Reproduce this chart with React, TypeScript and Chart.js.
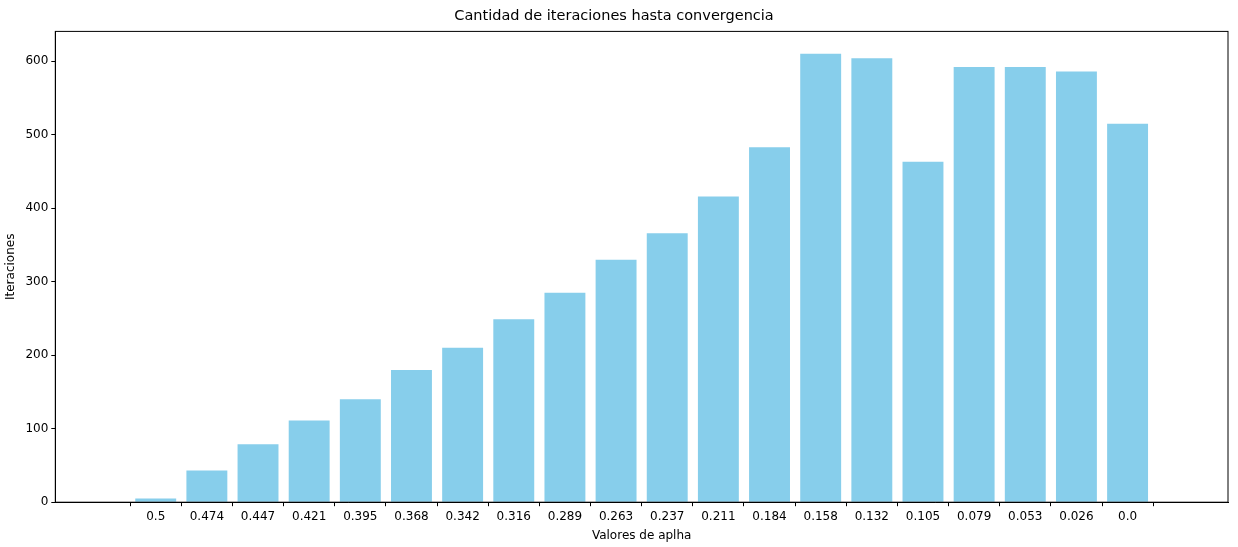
import { Chart, registerables } from "chart.js";
import { useEffect, useRef } from "react";

Chart.register(...registerables);

const alphaLabels = ["0.5", "0.474", "0.447", "0.421", "0.395", "0.368", "0.342", "0.316", "0.289", "0.263", "0.237", "0.211", "0.184", "0.158", "0.132", "0.105", "0.079", "0.053", "0.026", "0.0"];
const iterations = [5, 43, 79, 111, 140, 180, 210, 249, 285, 330, 366, 416, 483, 610, 604, 463, 592, 592, 586, 515];
const yTicks = [0, 100, 200, 300, 400, 500, 600];

const frame = {
  id: "frame",
  afterDraw(chart: Chart) {
    const { ctx, chartArea: a } = chart;
    ctx.save();
    ctx.strokeStyle = "#000";
    ctx.lineWidth = 1;
    ctx.strokeRect(a.left, a.top, a.right - a.left, a.bottom - a.top);
    ctx.restore();
  },
};

const App = () => {
  const ref = useRef<HTMLCanvasElement>(null);
  useEffect(() => {
    if (!ref.current) return;
    const font = { family: "DejaVu Sans", size: 12 };
    const chart = new Chart(ref.current, {
      type: "bar",
      data: {
        datasets: [
          {
            data: iterations.map((y, i) => ({ x: i, y })),
            backgroundColor: "#87CEEB",
            barPercentage: 0.8,
            categoryPercentage: 1,
          },
        ],
      },
      options: {
        animation: false,
        responsive: false,
        layout: { padding: { top: 0, right: 10, left: 0, bottom: 0 } },
        plugins: {
          legend: { display: false },
          tooltip: { enabled: false },
          title: {
            display: true,
            text: "Cantidad de iteraciones hasta convergencia",
            color: "#000",
            font: { family: "DejaVu Sans", size: 14.5, weight: "normal" },
            padding: { top: 8, bottom: 6 },
          },
        },
        scales: {
          x: {
            type: "linear",
            min: -1.39,
            max: 20.39,
            afterBuildTicks: (s: any) => {
              s.ticks = alphaLabels.map((_, i) => ({ value: i }));
            },
            ticks: {
              color: "#000",
              font,
              maxRotation: 0,
              autoSkip: false,
              callback: (v: any) => alphaLabels[v] ?? "",
            },
            grid: { drawOnChartArea: false, tickLength: 4, color: "#000" },
            border: { color: "#000" },
            title: { display: true, text: "Valores de aplha", color: "#000", font, padding: { top: 2 } },
          },
          y: {
            min: 0,
            max: 640.5,
            afterBuildTicks: (s: any) => {
              s.ticks = yTicks.map((value) => ({ value }));
            },
            ticks: { color: "#000", font },
            grid: { drawOnChartArea: false, tickLength: 4, color: "#000" },
            border: { color: "#000" },
            title: { display: true, text: "Iteraciones", color: "#000", font, padding: { bottom: 4 } },
          },
        },
      },
      plugins: [frame],
    });
    return () => chart.destroy();
  }, []);

  return (
    <div style={{ position: "absolute", left: 0, top: 0 }}>
      <canvas ref={ref} width={1238} height={547} />
    </div>
  );
};

export default App;
